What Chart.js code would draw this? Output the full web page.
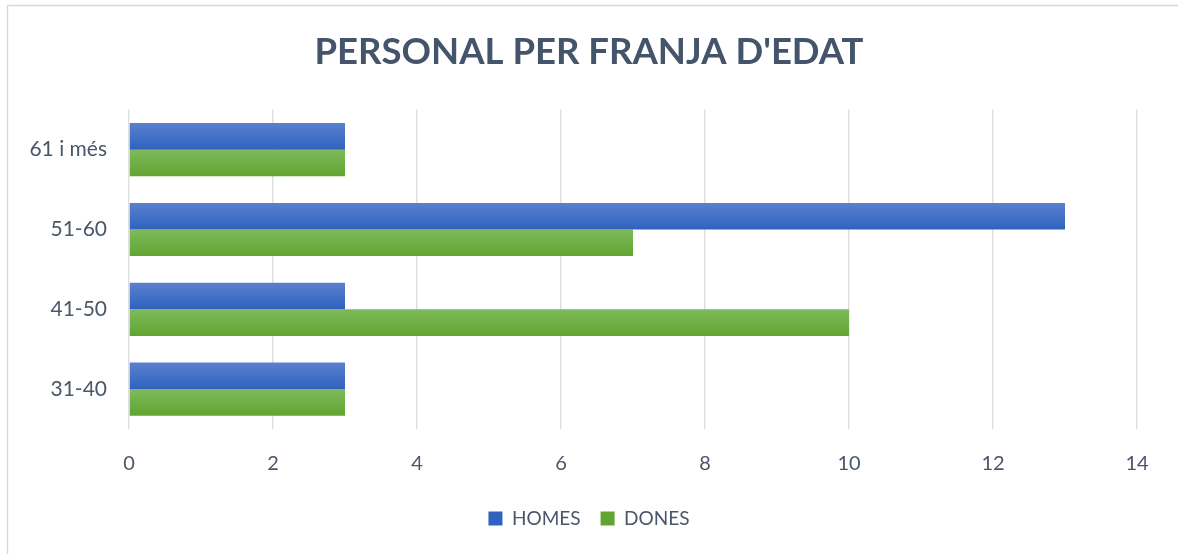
<!DOCTYPE html>
<html>
<head>
<meta charset="utf-8">
<script src="https://cdn.jsdelivr.net/npm/chart.js@4.4.0/dist/chart.umd.min.js"></script>
<style>
html,body{margin:0;padding:0;background:#fff;}
#wrap{width:1178px;height:554px;position:relative;}
</style>
</head>
<body>
<div id="wrap"><canvas id="c" width="1178" height="554"></canvas></div>
<script>
const titleText = "PERSONAL PER FRANJA D'EDAT";
const categories = ['61 i més', '51-60', '41-50', '31-40'];
const seriesNames = ['HOMES', 'DONES'];
const homes = [3, 13, 3, 3];
const dones = [3, 7, 10, 3];
const xTicks = [0, 2, 4, 6, 8, 10, 12, 14];

const CAT_PCT = 0.667;
const FONT = 'Lato, "Open Sans", sans-serif';
const TEXT = '#4A566A';

function gradFill(top, bottom, base) {
  return function (ctx) {
    if (ctx.type !== 'data') return base;
    const chart = ctx.chart;
    const ys = chart.scales.y;
    if (!ys || !ys.height) return base;
    const center = ys.getPixelForValue(ctx.dataIndex);
    const band = ys.height / categories.length;
    const bar = band * CAT_PCT / 2;
    const t = center - bar + ctx.datasetIndex * bar;
    const g = chart.ctx.createLinearGradient(0, t, 0, t + bar);
    g.addColorStop(0, top);
    g.addColorStop(1, bottom);
    return g;
  };
}

const frame = {
  id: 'frame',
  beforeDraw(chart) {
    const c = chart.ctx;
    c.save();
    c.fillStyle = '#fff';
    c.fillRect(0, 0, chart.width, chart.height);
    c.strokeStyle = '#D9D9D9';
    c.lineWidth = 1.5;
    c.strokeRect(7.5, 5.5, chart.width + 10, chart.height + 10);
    c.restore();
  }
};

new Chart(document.getElementById('c'), {
  type: 'bar',
  data: {
    labels: categories,
    datasets: [
      { label: seriesNames[0], data: homes,
        backgroundColor: gradFill('#5B80CF', '#2F62BE', '#4472C4'),
        borderWidth: 0, categoryPercentage: CAT_PCT, barPercentage: 1 },
      { label: seriesNames[1], data: dones,
        backgroundColor: gradFill('#7EBA5C', '#62A431', '#70AD47'),
        borderWidth: 0, categoryPercentage: CAT_PCT, barPercentage: 1 }
    ]
  },
  options: {
    indexAxis: 'y',
    responsive: false,
    animation: false,
    layout: { padding: { left: 0, right: 0, top: 0, bottom: 16 } },
    scales: {
      x: {
        min: 0, max: 14,
        afterBuildTicks(s) { s.ticks = xTicks.map(v => ({ value: v })); },
        grid: { color: '#DDDFE3', lineWidth: 1.5, drawTicks: false },
        border: { display: false },
        ticks: { color: TEXT, font: { family: FONT, size: 20 }, padding: 23 },
        afterFit(s) { s.height = 60; }
      },
      y: {
        grid: { display: false, drawTicks: false },
        border: { display: false },
        ticks: { color: TEXT, font: { family: FONT, size: 21 }, padding: 22 },
        afterFit(s) { s.width = 129; }
      },
      yRight: {
        type: 'category',
        labels: categories,
        position: 'right',
        grid: { display: false, drawTicks: false },
        border: { display: false },
        ticks: { display: false },
        afterFit(s) { s.width = 41; }
      }
    },
    plugins: {
      title: {
        display: true, text: titleText, color: '#44546A',
        font: { family: FONT, size: 36.5, weight: 'bold' },
        padding: { top: 30, bottom: 36 }
      },
      legend: {
        position: 'bottom',
        labels: { color: TEXT, font: { family: FONT, size: 19 }, boxWidth: 14, boxHeight: 14, padding: 20 }
      },
      tooltip: { enabled: false }
    }
  },
  plugins: [frame]
});
</script>
</body>
</html>
